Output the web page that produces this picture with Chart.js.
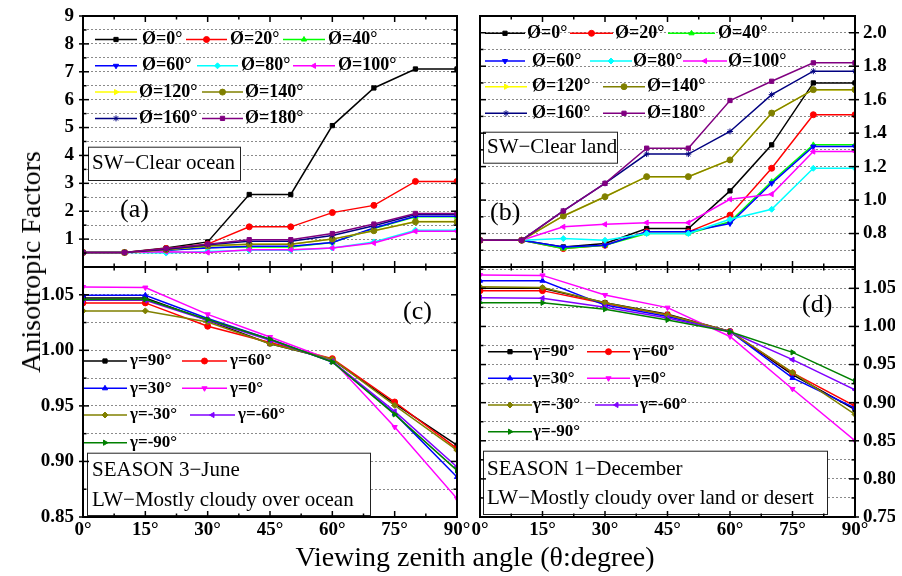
<!DOCTYPE html>
<html><head><meta charset="utf-8">
<script src="https://cdn.jsdelivr.net/npm/chart.js"></script>
<style>
html,body{margin:0;padding:0;background:#fff;}
#wrap{position:relative;width:902px;height:576px;overflow:hidden;background:#fff;font-family:"Liberation Serif","Times New Roman",serif;color:#000;}
canvas{position:absolute;left:0;top:0;}
#ytitle{position:absolute;left:31px;top:262px;transform:translate(-50%,-50%) rotate(-90deg);font-size:28px;white-space:nowrap;}
#xtitle{position:absolute;left:475px;top:557px;transform:translate(-50%,-50%);font-size:28px;white-space:nowrap;}
</style></head>
<body><div id="wrap">
<canvas id="pa" width="902" height="576"></canvas>
<canvas id="pb" width="902" height="576"></canvas>
<canvas id="pc" width="902" height="576"></canvas>
<canvas id="pd" width="902" height="576"></canvas>
<div id="ytitle">Anisotropic Factors</div>
<div id="xtitle">Viewing zenith angle (θ:degree)</div>
</div>
<script>
// ---------- categories ----------
const thetaTop = [0,10,20,30,40,50,60,70,80,90];
const thetaBottom = [0,15,30,45,60,75,90];
const phiNames = ['Ø=0°','Ø=20°','Ø=40°','Ø=60°','Ø=80°','Ø=100°','Ø=120°','Ø=140°','Ø=160°','Ø=180°'];
const gammaNames = ['γ=90°','γ=60°','γ=30°','γ=0°','γ=-30°','γ=-60°','γ=-90°'];

// ---------- (a) SW clear ocean ----------
const a_phi0   = [0.52,0.52,0.68,0.90,2.60,2.60,5.07,6.42,7.10,7.10];
const a_phi20  = [0.52,0.52,0.66,0.82,1.44,1.44,1.95,2.21,3.07,3.07];
const a_phi40  = [0.52,0.52,0.60,0.70,0.72,0.72,0.88,1.38,1.80,1.80];
const a_phi60  = [0.52,0.52,0.60,0.68,0.74,0.74,0.88,1.40,1.82,1.82];
const a_phi80  = [0.52,0.52,0.50,0.56,0.60,0.60,0.68,0.90,1.32,1.32];
const a_phi100 = [0.52,0.52,0.55,0.52,0.62,0.62,0.68,0.86,1.28,1.28];
const a_phi120 = [0.52,0.52,0.62,0.76,0.82,0.82,1.00,1.30,1.63,1.63];
const a_phi140 = [0.52,0.52,0.62,0.76,0.82,0.82,1.00,1.30,1.62,1.62];
const a_phi160 = [0.52,0.52,0.64,0.80,0.92,0.92,1.13,1.48,1.88,1.88];
const a_phi180 = [0.52,0.52,0.66,0.82,0.98,0.98,1.20,1.54,1.92,1.92];

// ---------- (b) SW clear land ----------
const b_phi0   = [0.76,0.76,0.72,0.74,0.83,0.83,1.055,1.33,1.70,1.70];
const b_phi20  = [0.76,0.76,0.71,0.73,0.81,0.81,0.91,1.19,1.51,1.51];
const b_phi40  = [0.76,0.76,0.71,0.73,0.80,0.80,0.87,1.11,1.33,1.33];
const b_phi60  = [0.76,0.76,0.72,0.73,0.81,0.81,0.86,1.10,1.32,1.32];
const b_phi80  = [0.76,0.76,0.77,0.76,0.80,0.80,0.885,0.945,1.19,1.19];
const b_phi100 = [0.76,0.76,0.84,0.855,0.865,0.865,1.005,1.035,1.29,1.29];
const b_phi120 = [0.76,0.76,0.905,1.02,1.14,1.14,1.24,1.52,1.66,1.66];
const b_phi140 = [0.76,0.76,0.905,1.02,1.14,1.14,1.24,1.52,1.66,1.66];
const b_phi160 = [0.76,0.76,0.935,1.10,1.275,1.275,1.41,1.63,1.77,1.77];
const b_phi180 = [0.76,0.76,0.935,1.10,1.31,1.31,1.595,1.71,1.82,1.82];

// ---------- (c) LW June, mostly cloudy over ocean ----------
const c_g90  = [1.047,1.047,1.027,1.006,0.9917,0.952,0.9146];
const c_g60  = [1.0427,1.0427,1.0217,1.007,0.9925,0.9535,0.9116];
const c_g30  = [1.0495,1.0495,1.0286,1.010,0.9895,0.943,0.886];
const c_g0   = [1.057,1.0565,1.0324,1.012,0.991,0.931,0.8666];
const c_gm30 = [1.0355,1.0355,1.0255,1.006,0.992,0.9505,0.9101];
const c_gm60 = [1.045,1.045,1.027,1.009,0.990,0.945,0.895];
const c_gm90 = [1.0457,1.046,1.0277,1.010,0.9895,0.9424,0.892];

// ---------- (d) LW December, mostly cloudy over land or desert ----------
const d_g90  = [1.050,1.050,1.0312,1.016,0.9934,0.9368,0.891];
const d_g60  = [1.047,1.047,1.030,1.015,0.9934,0.939,0.8955];
const d_g30  = [1.060,1.060,1.028,1.013,0.9934,0.9325,0.893];
const d_g0   = [1.0674,1.067,1.0413,1.0247,0.9868,0.918,0.850];
const d_gm30 = [1.052,1.051,1.0312,1.015,0.9934,0.9398,0.8846];
const d_gm60 = [1.0377,1.037,1.0252,1.011,0.993,0.9564,0.917];
const d_gm90 = [1.0312,1.031,1.0226,1.0086,0.993,0.966,0.928];

// ---------- styles ----------
const phiStyles = [
  {c:'#000000', m:'rect'}, {c:'#ff0000', m:'circle'}, {c:'#00ff00', m:'triangle'},
  {c:'#0000ff', m:'triangle', r:180}, {c:'#00ffff', m:'rectRot'}, {c:'#ff00ff', m:'triangle', r:-90},
  {c:'#ffff00', m:'triangle', r:90}, {c:'#808000', m:'circle'}, {c:'#000080', m:'star'}, {c:'#800080', m:'rect'}
];
const gammaStyles = [
  {c:'#000000', m:'rect'}, {c:'#ff0000', m:'circle'}, {c:'#0000ff', m:'triangle'},
  {c:'#ff00ff', m:'triangle', r:180}, {c:'#808000', m:'rectRot'}, {c:'#8000ff', m:'triangle', r:-90},
  {c:'#008000', m:'triangle', r:90}
];

Chart.defaults.font.family = "'Liberation Serif','Times New Roman',serif";
Chart.defaults.color = '#000';

function stepTicks(lo, hi, step){
  const n = Math.round((hi-lo)/step), out = [];
  for (let i=0;i<=n;i++) out.push({value: +(lo + i*step).toFixed(6)});
  return out;
}

const fmtA = v => (Math.abs(v-Math.round(v))<1e-6 && v>0.5) ? String(Math.round(v)) : '';
const fmtB = v => { const k=Math.round(v*10); return (Math.abs(v*10-k)<1e-6 && k%2===0 && k>=8 && k<=20) ? (k/10).toFixed(1) : ''; };
const fmtCD = v => { const k=Math.round(v*1000); return (Math.abs(v*1000-k)<1e-3 && k%50===0) ? (k/1000).toFixed(2) : ''; };

const deco = {};
const panelPlugin = {
  id: 'panelDeco',
  afterDatasetsDraw(chart){
    const d = deco[chart.canvas.id]; if(!d) return;
    const ctx = chart.ctx, a = chart.chartArea;
    ctx.save();
    ctx.setLineDash([]);
    d.boxes.forEach(b => {
      ctx.fillStyle='#fff'; ctx.fillRect(a.left+b.x, a.top+b.y, b.w, b.h);
      ctx.strokeStyle='#222'; ctx.lineWidth=1; ctx.strokeRect(a.left+b.x+0.5, a.top+b.y+0.5, b.w, b.h);
      ctx.fillStyle='#000'; ctx.font=b.font; ctx.textBaseline='middle'; ctx.textAlign='left';
      b.lines.forEach(l => ctx.fillText(l.text, a.left+l.x, a.top+l.y));
    });
    d.labels.forEach(l => {
      ctx.fillStyle='#000'; ctx.font=l.font; ctx.textBaseline='middle'; ctx.textAlign='left';
      ctx.fillText(l.text, a.left+l.x, a.top+l.y);
    });
    d.legend.items.forEach(it => {
      const ds = chart.data.datasets[it[0]];
      const y = a.top + d.legend.rows[it[4]];
      const x0 = a.left+it[1], x1 = a.left+it[2];
      ctx.strokeStyle=ds.borderColor; ctx.lineWidth=ds.borderWidth;
      ctx.beginPath(); ctx.moveTo(x0,y); ctx.lineTo(x1,y); ctx.stroke();
      ctx.fillStyle=ds.backgroundColor; ctx.strokeStyle=ds.borderColor; ctx.lineWidth=1;
      if (Chart.helpers && Chart.helpers.drawPoint) {
        Chart.helpers.drawPoint(ctx, {pointStyle: ds.pointStyle, rotation: ds.pointRotation||0, radius: ds.pointRadius, borderWidth: 1}, (x0+x1)/2, y);
      }
      ctx.fillStyle='#000'; ctx.font=d.legend.font; ctx.textBaseline='middle'; ctx.textAlign='left';
      ctx.fillText(ds.label, a.left+it[3], y);
    });
    ctx.restore();
  },
  afterDraw(chart){
    const d = deco[chart.canvas.id]; if(!d) return;
    const ctx = chart.ctx, a = chart.chartArea, xs = chart.scales.x, ys = chart.scales.y;
    ctx.save(); ctx.setLineDash([]);
    ctx.strokeStyle='#000'; ctx.lineWidth=1.5;
    const line=(x0,y0,x1,y1)=>{ctx.beginPath();ctx.moveTo(x0,y0);ctx.lineTo(x1,y1);ctx.stroke();};
    stepTicks(0,90,7.5).forEach(t => {
      const px = xs.getPixelForValue(t.value); const L = (t.value%15===0)?6:3.5;
      line(px,a.bottom,px,a.bottom-L); line(px,a.top,px,a.top+L);
    });
    ys.ticks.forEach(t => {
      const py = ys.getPixelForValue(t.value);
      if (py < a.top-0.5 || py > a.bottom+0.5) return;
      const major = d.fmt(t.value)!==''; const L = major?6:3.5;
      line(a.left,py,a.left+L,py); line(a.right,py,a.right-L,py);
      if (major){ if(d.side==='left') line(a.left-4,py,a.left,py); else line(a.right,py,a.right+4,py); }
    });
    ctx.lineWidth=2; ctx.strokeRect(a.left, a.top, a.right-a.left, a.bottom-a.top);
    ctx.restore();
  }
};

function makePanel(id, cfg){
  const datasets = cfg.series.map((vals,i)=>({
    label: cfg.names[i],
    data: cfg.x.map((xv,j)=>({x:xv, y:vals[j]})),
    borderColor: cfg.styles[i].c, backgroundColor: cfg.styles[i].c,
    pointStyle: cfg.styles[i].m, pointRotation: cfg.styles[i].r||0,
    pointRadius: 3, pointHoverRadius: 3, pointBorderWidth: 1, borderWidth: 1.5,
    tension: 0, fill: false, order: -i
  }));
  const side = cfg.side;
  deco[id] = Object.assign({fmt: cfg.fmt, side: side}, cfg.deco);
  new Chart(document.getElementById(id), {
    type: 'line',
    data: {datasets},
    options: {
      responsive:false, animation:false, devicePixelRatio:1, events:[],
      layout:{padding: cfg.padding},
      plugins:{legend:{display:false}, tooltip:{enabled:false}},
      scales:{
        x:{
          type:'linear', min:0, max:90,
          afterBuildTicks: s => { s.ticks = stepTicks(0,90,7.5); },
          afterFit: s => { s.height = cfg.showX ? 30 : 0; s.paddingLeft = 0; s.paddingRight = 0; },
          ticks:{display: cfg.showX, callback: v => (v%15===0 ? v+'°' : ''), autoSkip:false, maxRotation:0, minRotation:0, color:'#000', font:{size:19, weight:'bold'}, padding:2},
          grid:{display:false, drawTicks:false},
          border:{display:false}
        },
        y:{
          type:'linear', position: side, min: cfg.ymin, max: cfg.ymax,
          afterBuildTicks: s => { s.ticks = stepTicks(cfg.ymin, cfg.ytickMax, cfg.ystep); },
          afterFit: s => { s.width = side==='left' ? 60 : 40; s.paddingTop = 0; s.paddingBottom = 0; },
          ticks:{callback: v => cfg.fmt(v), autoSkip:false, color:'#000', font:{size:19, weight:'bold'}, padding: side==='left' ? 9 : 8},
          grid:{color:'#8a8a8a', lineWidth:1, drawTicks:false},
          border:{display:false, dash:[2,2]}
        }
      }
    },
    plugins:[panelPlugin]
  });
}

makePanel('pa', {
  x: thetaTop, names: phiNames, styles: phiStyles, side:'left', showX:false,
  series:[a_phi0,a_phi20,a_phi40,a_phi60,a_phi80,a_phi100,a_phi120,a_phi140,a_phi160,a_phi180],
  ymin:0, ymax:9, ytickMax:9, ystep:0.5, fmt: fmtA,
  padding:{left:23, top:16, right:445, bottom:309},
  deco:{
    legend:{font:"bold 18px 'Liberation Serif'", rows:[23.5,49.8,76.1,102.4],
      items:[[0,12,54,59,0],[1,103,144,147,0],[2,200,242,245,0],
             [3,12,54,59,1],[4,114,155,158,1],[5,210,252,255,1],
             [6,12,54,56,2],[7,119,160,162,2],
             [8,12,54,56,3],[9,119,160,162,3]]},
    boxes:[{x:5,y:130.7,w:152,h:33.3,font:"21px 'Liberation Serif'",lines:[{text:'SW−Clear ocean',x:9,y:147.8}]}],
    labels:[{text:'(a)',x:37,y:194,font:"26px 'Liberation Serif'"}]
  }
});

makePanel('pb', {
  x: thetaTop, names: phiNames, styles: phiStyles, side:'right', showX:false,
  series:[b_phi0,b_phi20,b_phi40,b_phi60,b_phi80,b_phi100,b_phi120,b_phi140,b_phi160,b_phi180],
  ymin:0.6, ymax:2.1, ytickMax:2.1, ystep:0.1, fmt: fmtB,
  padding:{left:480, top:16, right:7, bottom:309},
  deco:{
    legend:{font:"bold 18px 'Liberation Serif'", rows:[17.3,45,70.7,97.3],
      items:[[0,5,45,47,0],[1,90,133,135,0],[2,188,235,238,0],
             [3,5,45,52,1],[4,110,152,153,1],[5,203,247,248,1],
             [6,5,47,52,2],[7,123,165,167,2],
             [8,5,47,52,3],[9,123,165,167,3]]},
    boxes:[{x:3,y:115.7,w:134,h:31,font:"21px 'Liberation Serif'",lines:[{text:'SW−Clear land',x:7,y:131.7}]}],
    labels:[{text:'(b)',x:10,y:197,font:"26px 'Liberation Serif'"}]
  }
});

makePanel('pc', {
  x: thetaBottom, names: gammaNames, styles: gammaStyles, side:'left', showX:true,
  series:[c_g90,c_g60,c_g30,c_g0,c_gm30,c_gm60,c_gm90],
  ymin:0.85, ymax:1.075, ytickMax:1.075, ystep:0.025, fmt: fmtCD,
  padding:{left:23, top:267, right:445, bottom:29},
  deco:{
    legend:{font:"bold 17px 'Liberation Serif'", rows:[94,121.3,148,175.7],
      items:[[0,0,44,47,0],[1,99,144,147,0],[2,0,44,47,1],[3,99,144,147,1],
             [4,0,44,47,2],[5,107,152,155,2],[6,0,44,47,3]]},
    boxes:[{x:4,y:185.7,w:283,h:62.3,font:"21px 'Liberation Serif'",
      lines:[{text:'SEASON 3−June',x:9,y:203},{text:'LW−Mostly cloudy over ocean',x:9,y:233}]}],
    labels:[{text:'(c)',x:320,y:44.7,font:"26px 'Liberation Serif'"}]
  }
});

makePanel('pd', {
  x: thetaBottom, names: gammaNames, styles: gammaStyles, side:'right', showX:true,
  series:[d_g90,d_g60,d_g30,d_g0,d_gm30,d_gm60,d_gm90],
  ymin:0.75, ymax:1.078, ytickMax:1.075, ystep:0.025, fmt: fmtCD,
  padding:{left:480, top:267, right:7, bottom:29},
  deco:{
    legend:{font:"bold 17px 'Liberation Serif'", rows:[84.7,111.3,138,164.7],
      items:[[0,8,52,53,0],[1,107,150,153,0],[2,8,52,53,1],[3,107,150,153,1],
             [4,8,52,53,2],[5,115,158,160,2],[6,8,52,53,3]]},
    boxes:[{x:3,y:183.7,w:344,h:63.3,font:"21px 'Liberation Serif'",
      lines:[{text:'SEASON 1−December',x:7,y:202.3},{text:'LW−Mostly cloudy over land or desert',x:7,y:231.3}]}],
    labels:[{text:'(d)',x:322,y:38,font:"26px 'Liberation Serif'"}]
  }
});
</script>
</body></html>
